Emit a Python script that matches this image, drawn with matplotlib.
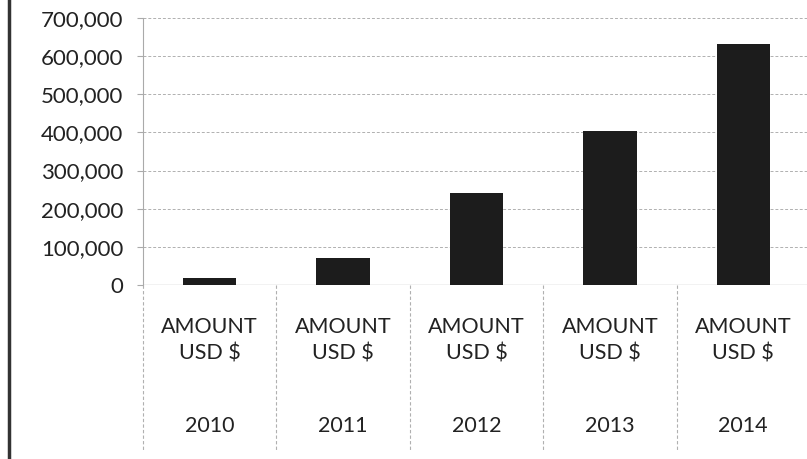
import matplotlib
matplotlib.use("Agg")
import matplotlib.pyplot as plt
from matplotlib.ticker import FuncFormatter, MultipleLocator
from matplotlib.lines import Line2D

years = ["2010", "2011", "2012", "2013", "2014"]
series_label = "AMOUNT\nUSD $"
amounts = [18000, 71000, 240000, 405000, 633000]
y_max = 700000
y_step = 100000

plt.rcParams['font.family'] = ['Lato', 'DejaVu Sans']

W, H = 807, 459
fig = plt.figure(figsize=(W / 100, H / 100), dpi=100)
fig.patch.set_facecolor("white")
left, right, top, bottom = 143, 810, 18, 285
ax = fig.add_axes([left / W, (H - bottom) / H, (right - left) / W, (bottom - top) / H])

x = list(range(len(years)))
ax.bar(x, amounts, width=0.4, color="#1c1c1c", zorder=3)

ax.set_xlim(-0.5, len(years) - 0.5)
ax.set_ylim(0, y_max)
ax.yaxis.set_major_locator(MultipleLocator(y_step))
ax.yaxis.set_major_formatter(FuncFormatter(lambda v, p: f"{int(v):,}"))
ax.grid(axis="y", color="#b0b0b0", linestyle=(0, (3, 2)), linewidth=0.7, zorder=0)
for s in ["top", "right", "bottom"]:
    ax.spines[s].set_visible(False)
ax.spines["left"].set_color("#aaaaaa")
ax.spines["left"].set_linewidth(0.8)
ax.axhline(0, color="#999999", linewidth=0.9, zorder=2)
ax.tick_params(axis="y", length=4, color="#aaaaaa", labelsize=16, labelcolor="#222222", pad=10)
ax.set_xticks([])

# multi-level category labels
trans = ax.get_xaxis_transform()
for i, yr in enumerate(years):
    ax.text(i, -0.118, series_label, transform=trans, ha="center", va="top",
            fontsize=15.5, color="#222222", linespacing=1.42)
    ax.text(i, -0.49, yr, transform=trans, ha="center", va="top",
            fontsize=15.5, color="#222222")
# separators between categories
for b in [i - 0.5 for i in range(len(years) + 1)]:
    ax.add_line(Line2D([b, b], [0, -0.62], transform=trans, color="#b0b0b0",
                       linewidth=0.8, linestyle=(0, (3, 2)), clip_on=False))

# scanned page border on left
fig.add_artist(Line2D([9 / W, 9 / W], [0, 1], transform=fig.transFigure,
                      color="#333333", linewidth=2.5))

fig.savefig("out.png", dpi=100, facecolor="white")
